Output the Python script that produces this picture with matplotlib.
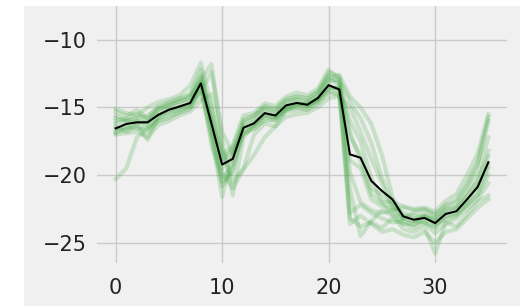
import matplotlib
matplotlib.use("Agg")
import matplotlib.pyplot as plt
from matplotlib.patches import Rectangle

x = list(range(36))

mean_line = [-16.55, -16.22, -16.1, -16.1, -15.55, -15.17, -14.93, -14.67, -13.22, -16.2,
             -19.22, -18.8, -16.5, -16.17, -15.42, -15.6, -14.85, -14.67, -14.8, -14.3,
             -13.35, -13.67, -18.47, -18.72, -20.42, -21.17, -21.8, -23.05, -23.3, -23.17,
             -23.55, -22.87, -22.67, -21.8, -20.87, -19.05]

s1 = [-15.3,-15.6,-15.2,-15.8,-14.9,-14.6,-14.3,-14.0,-12.2,-16.5,-20.5,-19.8,-16.0,-15.6,-15.0,-15.2,-14.5,-14.2,-14.4,-13.8,-12.6,-13.2,-23.2,-23.8,-23.5,-23.9,-23.2,-23.6,-23.9,-23.5,-24.3,-23.6,-23.2,-22.5,-21.8,-20.6]
s2 = [-16.0,-15.8,-15.5,-15.9,-15.2,-14.8,-14.6,-14.2,-13.0,-11.8,-17.5,-21.5,-17.2,-16.3,-15.6,-15.8,-15.1,-14.9,-14.6,-14.2,-12.8,-12.6,-14.2,-15.0,-16.2,-18.5,-21.6,-23.2,-22.8,-22.6,-23.0,-22.3,-22.0,-20.8,-19.2,-16.0]
s3 = [-20.3,-19.5,-17.2,-16.6,-16.0,-15.8,-15.3,-15.0,-13.6,-17.0,-21.6,-18.5,-17.0,-16.5,-16.0,-15.9,-15.2,-15.0,-15.2,-14.6,-13.8,-14.0,-21.0,-24.5,-23.4,-22.6,-23.0,-24.0,-24.2,-23.8,-25.8,-23.5,-23.8,-22.9,-22.0,-21.5]
s4 = [-16.8,-16.4,-16.6,-16.5,-15.8,-15.4,-15.0,-14.7,-13.4,-15.8,-19.0,-18.2,-16.4,-16.0,-15.3,-15.5,-14.8,-14.5,-14.9,-14.4,-13.5,-13.6,-17.2,-18.5,-21.0,-21.5,-22.2,-22.8,-23.0,-23.1,-23.2,-22.5,-22.4,-21.6,-20.5,-18.2]
s5 = [-17.0,-16.9,-16.8,-17.2,-16.3,-16.0,-15.6,-15.3,-14.5,-14.0,-18.0,-20.5,-19.5,-17.0,-16.2,-16.4,-15.7,-15.5,-15.4,-15.0,-14.3,-14.2,-15.0,-16.8,-18.8,-20.6,-22.5,-23.6,-23.6,-23.4,-23.8,-23.0,-22.8,-22.2,-21.5,-20.0]
s6 = [-15.1,-15.4,-15.6,-15.0,-14.6,-14.4,-14.1,-13.4,-11.7,-15.0,-18.5,-17.8,-15.6,-15.4,-14.7,-14.9,-14.2,-13.9,-14.1,-13.6,-12.2,-12.9,-19.8,-22.0,-22.6,-22.8,-22.6,-22.4,-22.6,-22.5,-22.9,-22.2,-21.8,-20.6,-19.0,-15.7]
s7 = [-16.4,-16.8,-16.3,-17.4,-15.6,-15.3,-15.2,-14.9,-13.1,-17.8,-20.2,-19.2,-16.8,-16.2,-15.5,-15.7,-15.0,-14.8,-14.7,-14.4,-13.4,-13.8,-22.8,-22.2,-22.8,-23.2,-23.5,-23.4,-23.7,-23.0,-23.6,-23.3,-23.0,-22.2,-21.4,-19.5]
s8 = [-16.2,-16.0,-16.2,-16.0,-15.4,-15.0,-14.8,-14.5,-13.2,-16.4,-19.8,-21.0,-19.6,-18.5,-17.2,-16.4,-15.2,-14.8,-14.9,-14.5,-13.6,-13.5,-16.0,-17.5,-20.2,-22.0,-22.9,-23.2,-23.4,-23.0,-23.4,-22.6,-22.3,-21.2,-19.8,-17.2]
s9 = [-15.6,-15.9,-15.9,-16.2,-15.1,-14.9,-14.5,-14.4,-12.8,-16.0,-19.5,-18.6,-16.2,-15.8,-15.1,-15.4,-14.6,-14.4,-14.6,-14.0,-12.9,-13.3,-18.9,-19.5,-21.8,-22.3,-22.4,-23.0,-23.2,-22.9,-23.3,-22.8,-22.5,-21.5,-20.4,-18.6]
s10 = [-16.6,-16.5,-16.0,-16.4,-15.7,-15.2,-15.0,-14.8,-13.8,-12.4,-16.8,-18.4,-16.6,-16.3,-15.6,-15.7,-15.0,-14.7,-14.9,-14.3,-13.1,-12.9,-14.6,-15.8,-17.6,-20.2,-22.0,-23.2,-23.4,-23.5,-23.9,-23.1,-22.9,-22.0,-20.9,-19.2]
s11 = [-16.9,-16.6,-16.4,-16.8,-16.0,-15.6,-15.4,-15.1,-13.9,-17.2,-20.8,-19.6,-16.9,-16.6,-15.8,-16.0,-15.3,-15.2,-15.1,-14.7,-13.9,-14.1,-23.6,-23.0,-23.6,-24.2,-24.0,-24.4,-24.6,-24.2,-25.0,-24.2,-24.0,-23.2,-22.4,-21.8]
s12 = [-15.8,-16.0,-15.8,-15.6,-15.0,-14.7,-14.4,-14.1,-12.6,-15.4,-18.9,-18.0,-15.9,-15.6,-14.9,-15.1,-14.4,-14.2,-14.3,-13.9,-12.4,-12.7,-16.8,-19.0,-21.4,-22.0,-22.0,-22.3,-22.5,-22.4,-22.7,-21.9,-21.4,-20.0,-18.4,-15.5]
samples = [s1, s2, s3, s4, s5, s6, s7, s8, s9, s10, s11, s12]

x_ticks = [0, 10, 20, 30]
y_ticks = [-25, -20, -15, -10]

BG = "#f0f0f0"
fig = plt.figure(figsize=(5.24, 3.06), dpi=100, facecolor="white")
fig.patches.append(Rectangle((24/524, 0), (520-24)/524, 300/306,
                             transform=fig.transFigure, facecolor=BG,
                             edgecolor="none", zorder=-10))
ax = fig.add_axes([97/524, 43/306, 410/524, 257/306])
ax.set_facecolor(BG)

for s in samples:
    ax.plot(x, s, color="#3da53d", alpha=0.22, lw=3.0, solid_joinstyle="round")
ax.plot(x, mean_line, color="black", lw=1.5, zorder=5)

ax.set_xlim(-1.75, 36.75)
ax.set_ylim(-26.5, -7.5)
ax.set_xticks(x_ticks)
ax.set_yticks(y_ticks)
ax.grid(True, color="#cbcbcb", lw=1)
ax.set_axisbelow(True)
for sp in ax.spines.values():
    sp.set_visible(False)
ax.tick_params(axis="both", length=0, labelsize=15, labelcolor="#222222")
ax.tick_params(axis="x", pad=11)
ax.tick_params(axis="y", pad=7)

fig.savefig("out.png", dpi=100, facecolor="white")
